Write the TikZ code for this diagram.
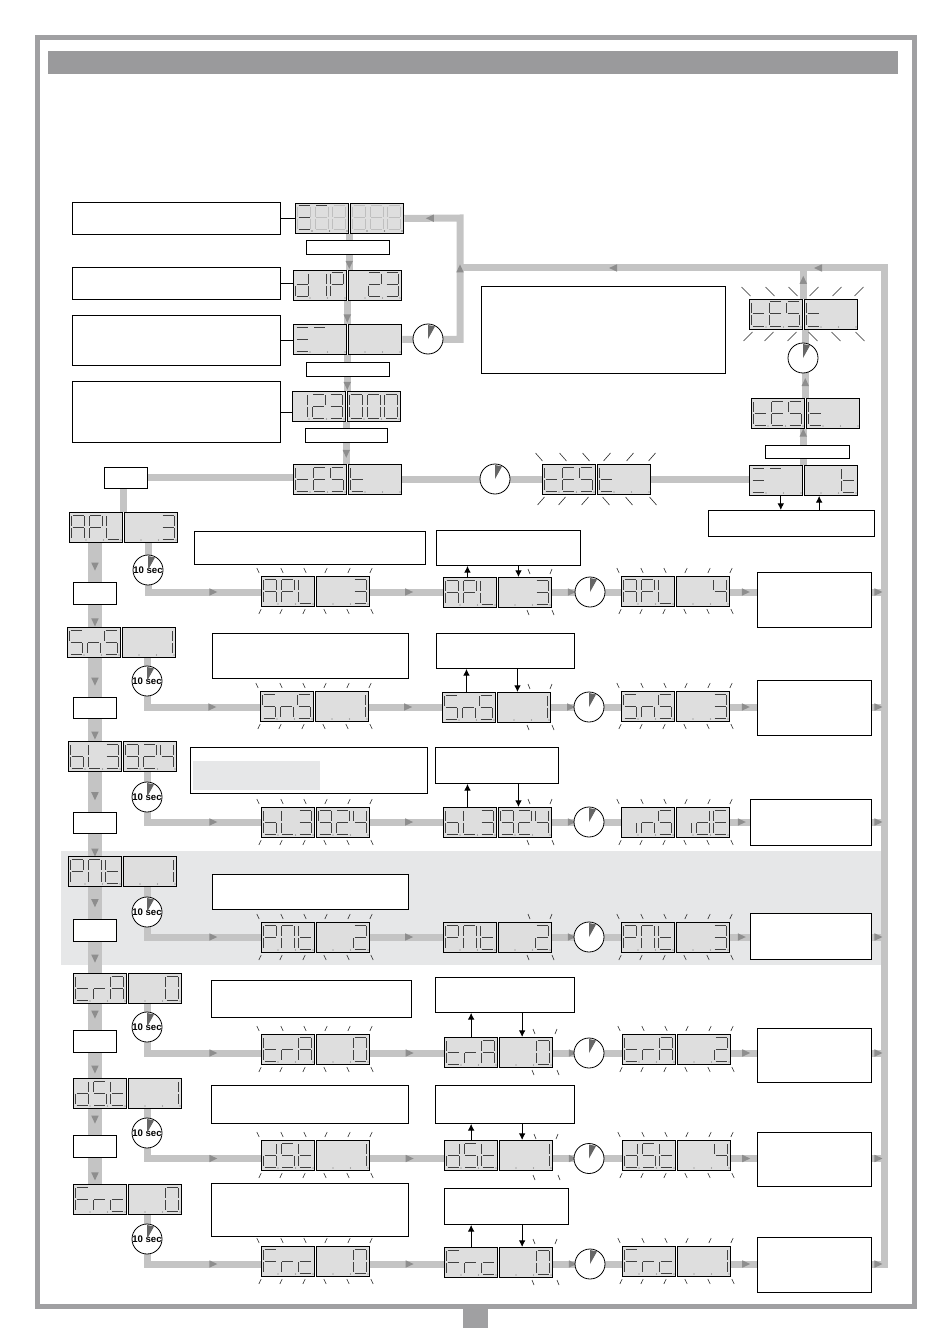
\documentclass[tikz,border=0pt]{standalone}
\usepackage{fontspec}
\usepackage{tikz}
\usetikzlibrary{arrows.meta,decorations.markings,backgrounds,shapes.geometric}
\newfontfamily\labelfont{Liberation Sans}

\definecolor{flowgray}{HTML}{C4C4C4}
\definecolor{tipgray}{HTML}{8E8E8E}
\definecolor{lcdgray}{HTML}{DEDEDE}
\definecolor{bandgray}{HTML}{E6E7E8}
\definecolor{framegray}{HTML}{A0A0A2}
\definecolor{bargray}{HTML}{9A9A9C}

\tikzset{
  flow/.style = {draw=flowgray, line width=5.25pt},
  flowwide/.style = {draw=flowgray, line width=10.5pt},
  flowtip/.style = {postaction={decorate, decoration={markings,
      mark=at position #1 with {\fill[tipgray] (3.2pt,0pt) -- (-2.8pt,2.8pt) -- (-2.8pt,-2.8pt) -- cycle;}}}},
  lcd/.style = {draw, fill=lcdgray, line width=.7pt, inner sep=0pt, anchor=north west,
      minimum width=40pt, minimum height=22.5pt},
  note/.style 2 args = {draw, fill=white, line width=.7pt, inner sep=0pt, anchor=north west,
      minimum width=#1*.75pt, minimum height=#2*.75pt},
  seg/.style = {black!75, line width=.5pt},
  segdim/.style = {black!25, line width=.5pt},
  swa/.style = {line width=.75pt},
  swd/.style = {line width=.75pt},
  swg/.style = {line width=.75pt},
  tick/.style = {black!85, line width=.45pt},
  dial/.style = {circle, draw, fill=white, line width=.6pt, inner sep=0pt, minimum size=22.5pt},
  wedge/.style = {fill=black!60},
  pointer/.style = {draw, line width=.7pt, -{Latex[length=5pt,width=5pt]}},
}

% segments of one digit
\newcommand{\defseg}[2]{\expandafter\def\csname seg#1\endcsname{#2}}
\newcommand{\defpath}[2]{\expandafter\def\csname path#1\endcsname{#2}}
\defpath{a}{(1,0) -- (12,0)}
\defpath{b}{(13,1) -- (13,11)}
\defpath{c}{(13,13) -- (13,23)}
\defpath{d}{(1,24) -- (12,24)}
\defpath{e}{(0,13) -- (0,23)}
\defpath{f}{(0,1) -- (0,11)}
\defpath{g}{(1,12) -- (12,12)}
\defpath{z}{(0,0)}
\defseg{-}{z}
\defseg{0}{a,b,c,d,e,f}
\defseg{1}{b,c}
\defseg{2}{a,b,d,e,g}
\defseg{3}{a,b,c,d,g}
\defseg{4}{b,c,f,g}
\defseg{8}{a,b,c,d,e,f,g}
\defseg{9}{a,b,c,d,f,g}
\defseg{A}{a,b,c,e,f,g}
\defseg{E}{a,d,e,f,g}
\defseg{F}{a,e,f,g}
\defseg{L}{d,e,f}
\defseg{M}{a,b,c,e,f}
\defseg{P}{a,b,e,f,g}
\defseg{S}{a,c,d,f,g}
\defseg{Y}{a}
\defseg{Z}{a,d,g}
\defseg{b}{c,d,e,f,g}
\defseg{c}{d,e,g}
\defseg{d}{b,c,d,e,g}
\defseg{i}{c}
\defseg{n}{c,e,g}
\defseg{r}{e,g}
\defseg{t}{d,e,f,g}

\newcommand{\digitrow}[4][seg]{%
  \foreach \ch [count=\pos from 0] in {#4} {
    \pgfmathsetmacro{\dx}{#2+2.5+17.5*\pos+(\pos>2?2.5:0)}
    \edef\seglist{\csname seg\ch\endcsname}
    \begin{scope}[shift={(\dx,#3+3)}]
      \foreach \sg in \seglist {\draw[#1, sw\sg/.try] \csname path\sg\endcsname;}
      \fill[black!55] (14.5,25) circle (.7);
    \end{scope}
  }
}
% two boxes of a display, named #1 and #1b
\newcommand{\lcdpair}[4]{%
  \node[lcd] (#1) at (#2,#3) {};
  \node[lcd] (#1b) at (#2+55,#3) {};
  \digitrow{#2}{#3}{#4}
}
\newcommand{\blink}[4]{%
  \foreach \ox in {-3,21,44} {\draw[tick] (#1+\ox-#3,#2-3-2*#4) -- (#1+\ox+#3,#2-3);}
  \foreach \ox in {65,88,110} {\draw[tick] (#1+\ox+#3,#2-3-2*#4) -- (#1+\ox-#3,#2-3);}
  \foreach \ox in {-1,20,43} {\draw[tick] (#1+\ox+#3,#2+33) -- (#1+\ox-#3,#2+33+2*#4);}
  \foreach \ox in {64,87,111} {\draw[tick] (#1+\ox-#3,#2+33) -- (#1+\ox+#3,#2+33+2*#4);}
}
\newcommand{\blinkend}[2]{%
  \draw[tick] (#1+85,#2-8) -- (#1+87,#2-3);
  \draw[tick] (#1+109,#2-8) -- (#1+107,#2-3);
  \draw[tick] (#1+86,#2+38) -- (#1+84,#2+33);
  \draw[tick] (#1+109,#2+33) -- (#1+111,#2+38);
}
\newcommand{\clockdial}[3]{%
  \node[dial] (#1) at (#2,#3) {};
  \fill[wedge] (#1.center) -- ++(0,-14) -- ++(7,1.5) -- cycle;
}
\newcommand{\tensec}[3]{%
  \node[dial, font=\labelfont\bfseries\fontsize{7.2}{8}\selectfont] (#1) at (#2,#3)
    {\makebox[0pt]{\raisebox{-2.2pt}{10 sec}}};
  \fill[wedge] (#2,#3) -- ++(0,-14) -- ++(7,1.5) -- cycle;
}
% grey lines of one menu row, at the height of its dial
\newcommand{\rowflow}[1]{%
  \coordinate (k#1) at (t#1 |- c#1);
  \draw[flow, flowtip=-36pt] (t#1 |- d#1b.south) -- (k#1) -- (k#1 -| f#1.west);
  \draw[flow, flowtip=.53] (f#1b.east |- c#1) -- (m#1.west |- c#1);
  \draw[flow, flowtip=.28] (m#1b.east |- c#1) -- (n#1.west |- c#1);
  \draw[flow, flowtip=.57] (n#1b.east |- c#1) -- (e#1.west |- c#1);
  \draw[flow, flowtip=.5] (e#1.east |- c#1) -- (jB |- c#1);
}

\begin{document}
\begin{tikzpicture}[x=.75pt,y=-.75pt]
\useasboundingbox (0,0) rectangle (950,1344);

% page frame
\draw[framegray, line width=3.75pt] (37.5,37.5) rectangle (914,1306);
\fill[bargray] (48,51) rectangle (898,74);
\fill[framegray] (463,1307) rectangle (488,1328);

% top sequence
\node[note={208}{32}] (noteAll) at (72,202) {};
\node[note={208}{32}] (noteDip) at (72,267) {};
\node[note={208}{50}] (noteEq) at (72,315) {};
\node[note={208}{61}] (noteCode) at (72,381) {};
\node[note={244}{87}] (noteTest) at (481,286) {};

\node[lcd] (dAll) at (295,203) {};
\node[lcd] (dAllb) at (350,203) {};
\digitrow[segdim]{295}{203}{8,8,8,8,8,8}
\digitrow{295}{203}{Z,Y,-,-,-,-}
\lcdpair{dDip}{293}{270}{d,1,P,-,2,3}
\lcdpair{dEq}{293}{324}{Z,Y,-,-,-,-}
\lcdpair{dCode}{292}{391}{1,2,3,0,0,0}
\lcdpair{dTest}{293}{464}{t,E,S,t,-,-}

\node[note={83}{14}] (keyA) at (306,240) {};
\node[note={83}{14}] (keyB) at (306,362) {};
\node[note={82}{14}] (keyC) at (305,428) {};
\node[note={43}{21}] (keyM) at (104,467) {};

\clockdial{cEq}{428}{339}
\clockdial{cTest}{495}{479}
\lcdpair{dTestA}{542}{464}{t,E,S,t,-,-}
\blink{542}{464}{3.5}{4}
\lcdpair{dEnd}{749}{465}{Z,Y,-,-,-,t}
\node[note={84}{13}] (keyD) at (765,445) {};
\node[note={166}{26}] (noteEnd) at (708,510) {};
\lcdpair{dTestB}{751}{398}{t,E,S,t,-,-}
\clockdial{cBack}{803}{358}
\lcdpair{dTestC}{749}{299}{t,E,S,t,-,-}
\blink{749}{299}{4.5}{4.5}

% left column keys
\node[note={43}{22}] (keyApl) at (73,582) {};
\node[note={43}{21}] (keySns) at (73,697) {};
\node[note={43}{21}] (keyBl) at (73,812) {};
\node[note={43}{22}] (keyPmt) at (73,919) {};
\node[note={43}{22}] (keyTra) at (73,1030) {};
\node[note={43}{22}] (keyDst) at (73,1135) {};

% row APL
\lcdpair{dApl}{69}{512}{A,P,L,-,-,3}
\tensec{tApl}{148}{570}
\node[note={231}{33}] (hApl) at (194,531) {};
\node[note={144}{35}] (sApl) at (436,530) {};
\lcdpair{fApl}{261}{576}{A,P,L,-,-,3}
\blink{261}{576}{1.2}{2.5}
\lcdpair{mApl}{443}{577}{A,P,L,-,-,3}
\blinkend{443}{577}
\clockdial{cApl}{590}{592}
\lcdpair{nApl}{621}{576}{A,P,L,-,-,4}
\blink{621}{576}{1.2}{2.5}
\node[note={114}{55}] (eApl) at (757,572) {};

% row SnS
\lcdpair{dSns}{67}{627}{S,n,S,-,-,1}
\tensec{tSns}{147}{681}
\node[note={196}{45}] (hSns) at (212,633) {};
\node[note={138}{35}] (sSns) at (436,633) {};
\lcdpair{fSns}{260}{691}{S,n,S,-,-,1}
\blink{260}{691}{1.2}{2.5}
\lcdpair{mSns}{442}{692}{S,n,S,-,-,1}
\blinkend{443}{692}
\clockdial{cSns}{589}{707}
\lcdpair{nSns}{621}{691}{S,n,S,-,-,3}
\blink{621}{691}{1.2}{2.5}
\node[note={114}{55}] (eSns) at (757,680) {};

% row bL3
\lcdpair{dBl}{68}{741}{b,L,3,9,2,4}
\tensec{tBl}{147}{797}
\node[note={237}{46}] (hBl) at (190,747) {};
\fill[bandgray] (193,761) rectangle (320,790);
\node[note={123}{36}] (sBl) at (435,747) {};
\lcdpair{fBl}{261}{807}{b,L,3,9,2,4}
\blink{261}{807}{1.2}{2.5}
\lcdpair{mBl}{443}{807}{b,L,3,9,2,4}
\blinkend{443}{807}
\clockdial{cBl}{589}{822}
\lcdpair{nBl}{621}{807}{i,n,S,i,d,E}
\blink{621}{807}{1.2}{2.5}
\node[note={121}{46}] (eBl) at (750,799) {};

% row PMt
\lcdpair{dPmt}{68}{856}{P,M,t,-,-,1}
\tensec{tPmt}{147}{912}
\node[note={196}{35}] (hPmt) at (212,874) {};
\lcdpair{fPmt}{261}{922}{P,M,t,-,-,2}
\blink{261}{922}{1.2}{2.5}
\lcdpair{mPmt}{443}{922}{P,M,t,-,-,2}
\blinkend{443}{922}
\clockdial{cPmt}{589}{937}
\lcdpair{nPmt}{621}{922}{P,M,t,-,-,3}
\blink{621}{922}{1.2}{2.5}
\node[note={121}{46}] (ePmt) at (750,913) {};

% row trA
\lcdpair{dTra}{73}{973}{t,r,A,-,-,0}
\tensec{tTra}{147}{1027}
\node[note={200}{37}] (hTra) at (211,980) {};
\node[note={139}{35}] (sTra) at (435,977) {};
\lcdpair{fTra}{261}{1034}{t,r,A,-,-,0}
\blink{261}{1034}{1.2}{2.5}
\lcdpair{mTra}{444}{1037}{t,r,A,-,-,0}
\blinkend{448}{1037}
\clockdial{cTra}{589}{1053}
\lcdpair{nTra}{622}{1034}{t,r,A,-,-,2}
\blink{622}{1034}{1.2}{2.5}
\node[note={114}{54}] (eTra) at (757,1028) {};

% row dSt
\lcdpair{dDst}{73}{1078}{d,S,t,-,-,1}
\tensec{tDst}{147}{1133}
\node[note={197}{38}] (hDst) at (211,1085) {};
\node[note={139}{38}] (sDst) at (435,1085) {};
\lcdpair{fDst}{261}{1140}{d,S,t,-,-,1}
\blink{261}{1140}{1.2}{2.5}
\lcdpair{mDst}{444}{1140}{d,S,t,-,-,1}
\blinkend{449}{1142}
\clockdial{cDst}{589}{1158.5}
\lcdpair{nDst}{622}{1140}{d,S,t,-,-,4}
\blink{622}{1140}{1.2}{2.5}
\node[note={114}{54}] (eDst) at (757,1132) {};

% row Frc
\lcdpair{dFrc}{73}{1184}{F,r,c,-,-,0}
\tensec{tFrc}{147}{1239}
\node[note={197}{53}] (hFrc) at (211,1183) {};
\node[note={124}{36}] (sFrc) at (444,1188) {};
\lcdpair{fFrc}{261}{1246}{F,r,c,-,-,0}
\blink{261}{1246}{1.2}{2.5}
\lcdpair{mFrc}{444}{1247}{F,r,c,-,-,0}
\blinkend{448}{1247}
\clockdial{cFrc}{590}{1264}
\lcdpair{nFrc}{622}{1246}{F,r,c,-,-,1}
\blink{622}{1246}{1.2}{2.5}
\node[note={114}{55}] (eFrc) at (757,1237) {};

\coordinate (jA) at (460,218);
\coordinate (jT) at (460,268);
\coordinate (jB) at (884.5,268);

\begin{scope}[on background layer]
\fill[bandgray] (61,851) rectangle (881,965);

% grey lines, top
\draw[flow, flowtip=.75, flowtip=.893] (eFrc.east |- cFrc) -| (jB) -- (jT);
\draw[flow, flowtip=.85] (dAll.south east) -- (dAll.south east |- dDip.north);
\draw[flow, flowtip=.75] (dDip.south east) -- (dDip.south east |- dEq.north);
\draw[flow, flowtip=.85] (dEq.south east) -- (dEq.south east |- dCode.north);
\draw[flow, flowtip=.75] (dCode.south east) -- (dCode.south east |- dTest.north);
\draw[flow, flowtip=.547, flowtip=.89] (dEqb.east) -| (jA) -- (dAllb.east);
\draw[flow] (keyM.east) -- (keyM.east -| dTest.west);
\draw[flow] (dTestb.east) -- (dTestb.east -| dTestA.west);
\draw[flow] (dTestAb.east) -- (dTestAb.east -| dEnd.west);
\draw[flow, flowtip=.89] (dEnd.north east) -- (dEnd.north east |- dTestB.south);
\draw[flow, flowtip=.23] (dTestB.north east) -- (dTestB.north east |- dTestC.south);
\draw[flow, flowtip=.61] (dTestC.north east) -- (dTestC.north east |- jT);

% left column
\draw[flow] (dApl.north east) -- (dApl.north east |- keyM.south);
\draw[flowwide, flowtip=.6] (keyApl.north |- dApl.south) -- (keyApl.north);
\draw[flowwide, flowtip=.78] (keyApl.south) -- (keyApl.south |- dSns.north);
\draw[flowwide, flowtip=.6] (keySns.north |- dSns.south) -- (keySns.north);
\draw[flowwide, flowtip=.74] (keySns.south) -- (keySns.south |- dBl.north);
\draw[flowwide, flowtip=.6] (keyBl.north |- dBl.south) -- (keyBl.north);
\draw[flowwide, flowtip=.83] (keyBl.south) -- (keyBl.south |- dPmt.north);
\draw[flowwide, flowtip=.5] (keyPmt.north |- dPmt.south) -- (keyPmt.north);
\draw[flowwide, flowtip=.53] (keyPmt.south) -- (keyPmt.south |- dTra.north);
\draw[flowwide, flowtip=.4] (keyTra.north |- dTra.south) -- (keyTra.north);
\draw[flowwide, flowtip=.65] (keyTra.south) -- (keyTra.south |- dDst.north);
\draw[flowwide, flowtip=.4] (keyDst.north |- dDst.south) -- (keyDst.north);
\draw[flowwide, flowtip=.7] (keyDst.south) -- (keyDst.south |- dFrc.north);

\rowflow{Apl}
\rowflow{Sns}
\rowflow{Bl}
\rowflow{Pmt}
\rowflow{Tra}
\rowflow{Dst}
\rowflow{Frc}
\end{scope}

% thin lines
\draw[line width=.7pt] (noteAll.east) -- (noteAll.east -| dAll.west);
\draw[line width=.7pt] (noteDip.east) -- (noteDip.east -| dDip.west);
\draw[line width=.7pt] (noteEq.east) -- (noteEq.east -| dEq.west);
\draw[line width=.7pt] (noteCode.east) -- (noteCode.east -| dCode.west);

\draw[pointer] ([xshift=3.5pt]dEnd.south) -- ([xshift=3.5pt]dEnd.south |- noteEnd.north);
\draw[pointer] ([xshift=-9pt]dEndb.south |- noteEnd.north) -- ([xshift=-9pt]dEndb.south);
\draw[pointer] ([xshift=-2pt]mApl.north) -- ([xshift=-2pt]mApl.north |- sApl.south);
\draw[pointer] ([xshift=-5pt]mAplb.north |- sApl.south) -- ([xshift=-5pt]mAplb.north);
\draw[pointer] ([xshift=-2pt]mSns.north) -- ([xshift=-2pt]mSns.north |- sSns.south);
\draw[pointer] ([xshift=-5pt]mSnsb.north |- sSns.south) -- ([xshift=-5pt]mSnsb.north);
\draw[pointer] ([xshift=-2pt]mBl.north) -- ([xshift=-2pt]mBl.north |- sBl.south);
\draw[pointer] ([xshift=-5pt]mBlb.north |- sBl.south) -- ([xshift=-5pt]mBlb.north);
\draw[pointer] (mTra.north) -- (mTra.north |- sTra.south);
\draw[pointer] ([xshift=-3pt]mTrab.north |- sTra.south) -- ([xshift=-3pt]mTrab.north);
\draw[pointer] (mDst.north) -- (mDst.north |- sDst.south);
\draw[pointer] ([xshift=-3pt]mDstb.north |- sDst.south) -- ([xshift=-3pt]mDstb.north);
\draw[pointer] (mFrc.north) -- (mFrc.north |- sFrc.south);
\draw[pointer] ([xshift=-3pt]mFrcb.north |- sFrc.south) -- ([xshift=-3pt]mFrcb.north);

\end{tikzpicture}
\end{document}
